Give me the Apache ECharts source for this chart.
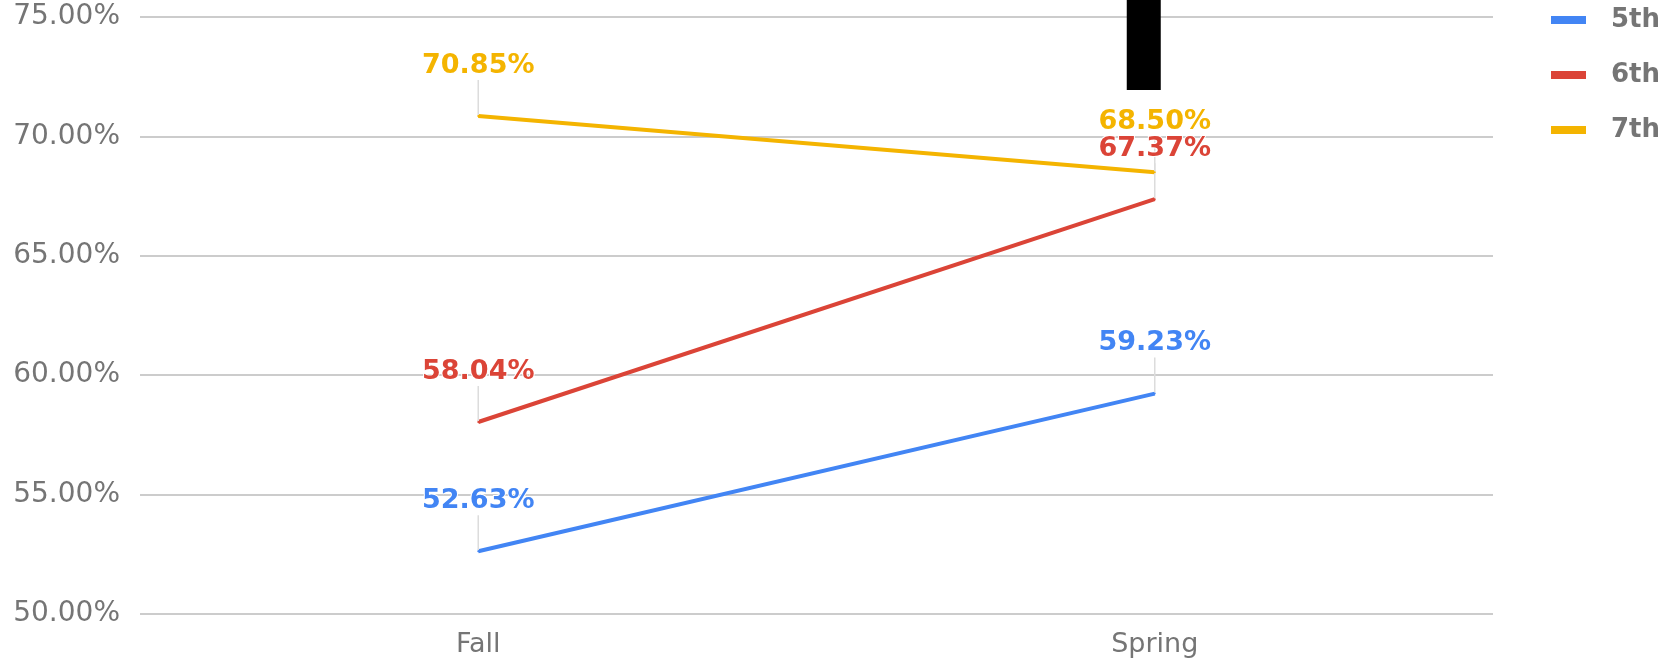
<!DOCTYPE html>
<html>
<head>
<meta charset="utf-8">
<script src="https://cdn.jsdelivr.net/npm/echarts@6/dist/echarts.min.js"></script>
<style>
html,body{margin:0;padding:0;background:#fff;}
#chart{width:1671px;height:665px;}
</style>
</head>
<body>
<div id="chart"></div>
<script>
const categories = ['Fall', 'Spring'];
const seriesNames = ['5th', '6th', '7th'];
const grade5 = [52.63, 59.23];
const grade6 = [58.04, 67.37];
const grade7 = [70.85, 68.50];
const yMin = 50, yMax = 75, yStep = 5;
const colors = ['#4285F4', '#DB4437', '#F4B400'];

const FONT = 'DejaVu Sans';
const chart = echarts.init(document.getElementById('chart'));

function makeSeries(name, data, color) {
  return {
    name: name,
    type: 'line',
    data: data,
    symbol: 'circle',
    symbolSize: 2,
    showSymbol: true,
    color: color,
    lineStyle: { width: 4, color: color },
    itemStyle: { color: color },
    label: {
      show: true,
      position: 'top',
      distance: 36,
      color: color,
      fontFamily: FONT,
      fontSize: 27,
      fontWeight: 'bold',
      textBorderColor: '#fff',
      textBorderWidth: 2,
      formatter: p => p.value.toFixed(2) + '%'
    },
    labelLine: { show: true, lineStyle: { color: '#dcdcdc', width: 1.5 } },
    emphasis: { disabled: true },
    animation: false
  };
}

chart.setOption({
  animation: false,
  color: colors,
  grid: { left: 140, right: 178, top: 17, bottom: 51 },
  legend: {
    orient: 'vertical',
    left: 1551,
    top: 7,
    padding: 0,
    itemGap: 29,
    itemWidth: 35,
    itemHeight: 8,
    icon: 'rect',
    data: seriesNames,
    textStyle: {
      color: '#757575',
      fontFamily: FONT,
      fontSize: 26,
      fontWeight: 'bold',
      padding: [0, 0, 0, 20]
    }
  },
  xAxis: {
    type: 'category',
    data: categories,
    boundaryGap: true,
    axisLine: { show: false },
    axisTick: { show: false },
    axisLabel: { color: '#757575', fontFamily: FONT, fontSize: 27, margin: 17 }
  },
  yAxis: {
    type: 'value',
    min: yMin,
    max: yMax,
    interval: yStep,
    axisLine: { show: false },
    axisTick: { show: false },
    splitLine: { lineStyle: { color: '#cccccc', width: 2 } },
    axisLabel: {
      color: '#757575',
      fontFamily: FONT,
      fontSize: 28,
      margin: 20,
      verticalAlign: 'middle',
      padding: [8, 0, 0, 0],
      formatter: v => v.toFixed(2) + '%'
    }
  },
  series: [
    makeSeries(seriesNames[0], grade5, colors[0]),
    makeSeries(seriesNames[1], grade6, colors[1]),
    makeSeries(seriesNames[2], grade7, colors[2])
  ]
});

// redaction box seen in the reference, placed relative to the Spring category
const sx = chart.convertToPixel({ xAxisIndex: 0 }, categories[1]);
chart.setOption({
  graphic: [{
    type: 'rect',
    shape: { x: sx - 28, y: 0, width: 34, height: 90 },
    style: { fill: '#000' },
    z: 100
  }]
});
</script>
</body>
</html>
